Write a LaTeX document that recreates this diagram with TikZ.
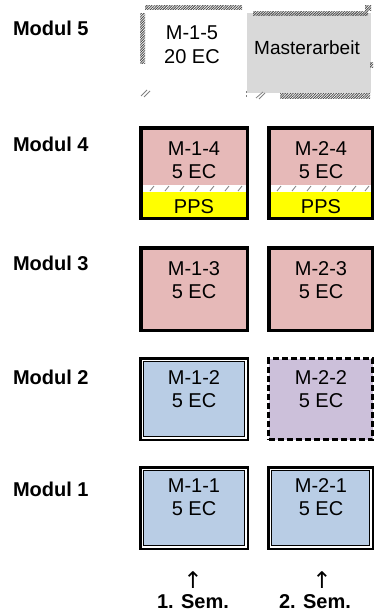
\documentclass[tikz,border=0pt]{standalone}
\usepackage{fontspec}
\setmainfont{Liberation Sans}
\newfontfamily\symfont{DejaVu Sans}
\usetikzlibrary{patterns.meta}
\definecolor{pinkc}{HTML}{E6B9B8}
\definecolor{bluec}{HTML}{B9CDE5}
\definecolor{purplec}{HTML}{CCC0DA}
\definecolor{grayc}{HTML}{D9D9D9}
\definecolor{yellowc}{HTML}{FFFF00}
\definecolor{hatchc}{HTML}{505050}
\definecolor{tickc}{HTML}{808080}
\begin{document}
\begin{tikzpicture}[x=1pt,y=-1pt,
  every node/.style={inner sep=0pt, outer sep=0pt},
  boxtext/.style={font=\fontsize{20}{23}\selectfont, anchor=base},
  mastertext/.style={font=\fontsize{19}{22}\selectfont, anchor=center},
  modlabel/.style={font=\bfseries\fontsize{20}{23}\selectfont, anchor=base west},
  semlabel/.style={font=\bfseries\fontsize{20}{23}\selectfont, anchor=base},
  arrowtext/.style={font=\symfont\fontsize{23}{25}\selectfont, anchor=base, text depth=0pt},
  frame/.style={anchor=north west, rectangle},
  pinkframe/.style={frame, draw=black, line width=3.5pt},
  pinkbox/.style={pinkframe, fill=pinkc},
  blueouter/.style={frame, draw=black, line width=2.5pt, fill=white},
  blueinner/.style={rectangle, anchor=center, draw=black, line width=0.8pt, fill=bluec},
  dashbox/.style={frame, draw=black, line width=3pt, dash pattern=on 6pt off 3pt, fill=purplec, preaction={draw=white, line width=3pt}},
  hatch/.style={pattern={Lines[angle=45,distance=1.8pt,line width=0.9pt]}, pattern color=hatchc},
  tick/.style={draw=tickc, line width=0.8pt}
]
\useasboundingbox (0,0) rectangle (375,613);

% Modul labels
\node[modlabel] (l5) at (13,35) {Modul 5};
\node[modlabel] (l4) at (13,151) {Modul 4};
\node[modlabel] (l3) at (13,270) {Modul 3};
\node[modlabel] (l2) at (13,384) {Modul 2};
\node[modlabel] (l1) at (13,496) {Modul 1};

% Modul 5: M-1-5 (hatched partial frame)
\node[frame, minimum width=105pt, minimum height=92pt] (m15) at (137,5) {};
\fill[hatch] (145,5) rectangle (242,9);
\fill[hatch] (140,13) rectangle (145,63);
\draw[tick] (141,96) -- (147,90);
\draw[tick] (144,97) -- (150,91);
\node[boxtext] (m15a) at (192,39) {M-1-5};
\node[boxtext] (m15b) at (192,63) {20 EC};

% Masterarbeit
\node[frame, fill=grayc, minimum width=124pt, minimum height=80pt] (ma) at (247,13) {};
\fill[hatch] (253,11.5) rectangle (368,15.5);
\fill[hatch] (365,5) rectangle (371,10);
\fill[hatch] (370,62) rectangle (373,67);
\fill[hatch] (280,93) rectangle (370,98);
\draw[tick] (256,98) -- (263,92);
\draw[tick] (259,99) -- (265,93);
\draw[tick] (246,91) -- (246,93);
\draw[tick] (246,95) -- (246,97);
\node[mastertext] (mat) at (307,47.5) {Masterarbeit};

% Modul 4 with PPS
\fill[pinkc] (139,126) rectangle (249,185);
\fill[white] (139,185) rectangle (249,192);
\fill[yellowc] (139,192) rectangle (249,220);
\foreach \x in {150,165,180,195,210,225,238} {\draw[tick] (\x,191) -- (\x+4,186);}
\node[pinkframe, minimum width=106.5pt, minimum height=90.5pt] (m14) at (140.75,127.75) {};
\node[boxtext] (m14a) at (194,155) {M-1-4};
\node[boxtext] (m14b) at (194,178) {5 EC};
\node[boxtext] (m14c) at (194,213) {PPS};

\fill[pinkc] (267,126) rectangle (374,185);
\fill[white] (267,185) rectangle (374,192);
\fill[yellowc] (267,192) rectangle (374,220);
\foreach \x in {277,292,307,322,337,352,365} {\draw[tick] (\x,191) -- (\x+4,186);}
\node[pinkframe, minimum width=103.5pt, minimum height=90.5pt] (m24) at (268.75,127.75) {};
\node[boxtext] (m24a) at (321,155) {M-2-4};
\node[boxtext] (m24b) at (321,178) {5 EC};
\node[boxtext] (m24c) at (321,213) {PPS};

% Modul 3
\node[pinkbox, minimum width=106.5pt, minimum height=82.5pt] (m13) at (140.75,247.75) {};
\node[boxtext] (m13a) at (194,275) {M-1-3};
\node[boxtext] (m13b) at (194,298) {5 EC};
\node[pinkbox, minimum width=103.5pt, minimum height=82.5pt] (m23) at (268.75,247.75) {};
\node[boxtext] (m23a) at (321,275) {M-2-3};
\node[boxtext] (m23b) at (321,298) {5 EC};

% Modul 2
\node[blueouter, minimum width=107.5pt, minimum height=81.5pt] (m12) at (140.25,358.25) {};
\node[blueinner, minimum width=101pt, minimum height=75pt] (m12i) at (m12.center) {};
\node[boxtext] (m12a) at (194,384) {M-1-2};
\node[boxtext] (m12b) at (194,407) {5 EC};
\node[dashbox, minimum width=104pt, minimum height=81pt] (m22) at (268.5,358.5) {};
\node[boxtext] (m22a) at (321,384) {M-2-2};
\node[boxtext] (m22b) at (321,407) {5 EC};

% Modul 1
\node[blueouter, minimum width=107.5pt, minimum height=81.5pt] (m11) at (140.25,467.25) {};
\node[blueinner, minimum width=101pt, minimum height=75pt] (m11i) at (m11.center) {};
\node[boxtext] (m11a) at (194,492) {M-1-1};
\node[boxtext] (m11b) at (194,515) {5 EC};
\node[blueouter, minimum width=104.5pt, minimum height=81.5pt] (m21) at (268.25,467.25) {};
\node[blueinner, minimum width=98pt, minimum height=75pt] (m21i) at (m21.center) {};
\node[boxtext] (m21a) at (321,492) {M-2-1};
\node[boxtext] (m21b) at (321,515) {5 EC};

% Semester
\node[arrowtext] (ar1) at (193,588) {↑};
\node[arrowtext] (ar2) at (322,588) {↑};
\node[semlabel] (s1) at (193,608) {1. Sem.};
\node[semlabel] (s2) at (315,608) {2. Sem.};
\end{tikzpicture}
\end{document}
